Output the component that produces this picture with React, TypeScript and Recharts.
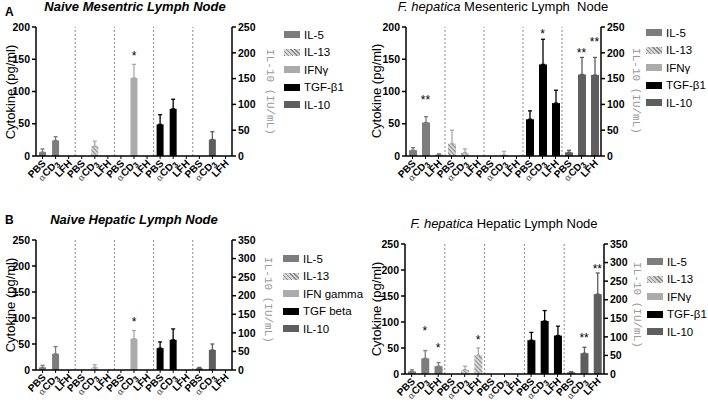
import React from 'react';
import { ComposedChart, Bar, XAxis, YAxis, ErrorBar, ReferenceLine, Scatter, Legend } from 'recharts';

const FONT = '"Liberation Sans", Arial, sans-serif';

const conditions = ['PBS', 'αCD3', 'LFH'];
const namesStd = ['IL-5', 'IL-13', 'IFNγ', 'TGF-β1', 'IL-10'];
const namesNaiveHep = ['IL-5', 'IL-13', 'IFN gamma', 'TGF beta', 'IL-10'];

const leftTicksMes = [0, 50, 100, 150, 200];
const rightTicksMes = [0, 50, 100, 150, 200, 250];
const leftTicksHep = [0, 50, 100, 150, 200, 250];
const rightTicksHep = [0, 50, 100, 150, 200, 250, 300, 350];

// rows: IL-5, IL-13, IFNγ, TGF-β1 (pg/ml) ; IL-10 (IU/mL); columns: PBS, αCD3, LFH
type Star = [number, number, string, number]; // series, condition, text, level

// Naive mesenteric lymph node
const nmMeans = [[6, 24, 0], [0, 15, 0], [0, 121, 0], [49, 73, 0], [0, 32, 0]];
const nmErrs = [[5, 6, 0], [0, 8, 0], [0, 21, 0], [15, 15, 0], [0, 15, 0]];
const nmStars: Star[] = [[2, 1, '*', 159]];

// F. hepatica mesenteric lymph node
const fmMeans = [[9, 52, 2], [19, 5, 0], [0, 1.5, 0], [57, 142, 82], [7, 158, 157]];
const fmErrs = [[4, 9, 1.5], [21, 6, 0], [0, 5.5, 0], [13, 39, 20], [4, 33, 34]];
const fmStars: Star[] = [[0, 1, '**', 92], [3, 1, '*', 194], [4, 1, '**', 205], [4, 2, '**', 227]];

// Naive hepatic lymph node
const nhMeans = [[5, 31, 0], [0, 5, 0], [0, 60, 0], [42, 58, 0], [4.5, 54, 0]];
const nhErrs = [[4, 14, 0], [0, 5, 0], [0, 16, 0], [12, 21, 0], [2.5, 16, 0]];
const nhStars: Star[] = [[2, 1, '*', 98]];

// F. hepatica hepatic lymph node
const fhMeans = [[5, 30, 15], [0, 8, 36], [0, 0, 0], [65, 102, 74], [4.5, 56, 215]];
const fhErrs = [[3, 15, 7], [0, 7, 14], [0, 0, 0], [15, 20, 18], [1.5, 16, 57]];
const fhStars: Star[] = [[0, 1, '*', 88], [0, 2, '*', 56], [1, 2, '*', 71], [4, 1, '**', 106], [4, 2, '**', 291]];

const colors = ['#7d7d7d', '#d2d2d2', '#ababab', '#000000', '#5e5e5e'];
const errColors = ['#7d7d7d', '#a8a8a8', '#ababab', '#000000', '#5e5e5e'];

function buildRows(means: number[][], errs: number[][], stars: Star[]) {
  const rows: any[] = [];
  means.forEach((vals, s) => {
    vals.forEach((v, c) => {
      const row: any = { key: `${s}-${c}` };
      row[`v${s}`] = v;
      const e = errs[s][c];
      if (e > 0) row[`e${s}`] = [0, e];
      const st = stars.find((t) => t[0] === s && t[1] === c);
      if (st) {
        if (s === 4) { row.starR = st[3]; row.txtR = st[2]; }
        else { row.starL = st[3]; row.txtL = st[2]; }
      }
      rows.push(row);
    });
  });
  return rows;
}

const XTick = (props: any) => {
  const { x, y, payload } = props;
  const c = Number(String(payload.value).split('-')[1]);
  const label = conditions[c];
  const isAlpha = label.startsWith('α');
  return (
    <text
      transform={`translate(${x + 4},${y + 3}) rotate(-45)`}
      textAnchor="end"
      fontSize={10}
      fontWeight="bold"
      fontFamily={FONT}
      fill="#000"
    >
      {isAlpha ? (
        <>
          <tspan fontSize={9} fontWeight="normal" fill="#555" fontFamily='"DejaVu Serif", serif'>α</tspan>
          <tspan>CD</tspan>
          <tspan dy={2} fontSize={8}>3</tspan>
        </>
      ) : label}
    </text>
  );
};

const makeStar = (field: string) => (props: any) => {
  const { cx, cy, payload } = props;
  const txt = payload ? payload[field] : undefined;
  if (!txt || !isFinite(cx) || !isFinite(cy)) return <g />;
  return (
    <text x={cx} y={cy + 7} textAnchor="middle" fontSize={12} fontFamily={FONT} fill="#000">{txt}</text>
  );
};
const StarL = makeStar('txtL');
const StarR = makeStar('txtR');

const Swatch = ({ i }: { i: number }) => {
  const style: React.CSSProperties = { width: 16, height: 7, display: 'inline-block', marginRight: 4, flex: 'none' };
  if (i === 1) {
    style.background = 'repeating-linear-gradient(45deg, #8a8a8a 0px, #8a8a8a 1px, #d6d6d6 1px, #d6d6d6 3px)';
  } else style.background = colors[i];
  return <span style={style} />;
};

const LegendBox = ({ names }: { names: string[] }) => (
  <div style={{ fontFamily: FONT, fontSize: 11.5, color: '#000' }}>
    {names.map((n, i) => (
      <div key={n} style={{ display: 'flex', alignItems: 'center', height: 17.5, whiteSpace: 'nowrap' }}>
        <Swatch i={i} />
        <span>{n}</span>
      </div>
    ))}
  </div>
);

const axisStroke = { stroke: '#000', strokeWidth: 1.5 };
const yTickStyle = { fill: '#000', fontSize: 10.5, fontWeight: 'bold', fontFamily: FONT };

function Panel(props: any) {
  const { uid, rows, left, top, margin, xh, leftTicks, rightTicks, names, legendPos, barSize } = props;
  const sepKeys = [3, 6, 9, 12].map((i) => rows[i].key);
  return (
    <div style={{ position: 'absolute', left, top }}>
      <ComposedChart width={354} height={202} data={rows} margin={margin}>
        <defs>
          <pattern id={`hatch-${uid}`} width={3} height={3} patternUnits="userSpaceOnUse" patternTransform="rotate(-45)">
            <rect width={3} height={3} fill="#d6d6d6" />
            <rect width={1} height={3} fill="#8a8a8a" />
          </pattern>
        </defs>
        {[0, 1, 2, 3, 4].map((k) =>
          k === 0 ? (
            <XAxis
              key="x0"
              xAxisId="x0"
              dataKey="key"
              interval={0}
              height={xh}
              tick={<XTick />}
              tickSize={3}
              tickMargin={2}
              axisLine={axisStroke}
              tickLine={{ stroke: '#000', strokeWidth: 1 }}
            />
          ) : (
            <XAxis key={`x${k}`} xAxisId={`x${k}`} dataKey="key" hide />
          )
        )}
        <YAxis
          yAxisId="L"
          domain={[0, leftTicks[leftTicks.length - 1]]}
          ticks={leftTicks}
          interval={0}
          width={36}
          tickSize={4}
          tickMargin={2}
          axisLine={axisStroke}
          tickLine={axisStroke}
          tick={yTickStyle}
        />
        <YAxis
          yAxisId="R"
          orientation="right"
          domain={[0, rightTicks[rightTicks.length - 1]]}
          ticks={rightTicks}
          interval={0}
          width={30}
          tickSize={4}
          tickMargin={2}
          axisLine={axisStroke}
          tickLine={axisStroke}
          tick={yTickStyle}
        />
        {sepKeys.map((k) => (
          <ReferenceLine key={k} xAxisId="x0" yAxisId="L" x={k} position="start" stroke="#8a8a8a" strokeDasharray="2 2" strokeWidth={1} />
        ))}
        {[0, 1, 2, 3, 4].map((k) => (
          <Bar
            key={`b${k}`}
            xAxisId={`x${k}`}
            yAxisId={k === 4 ? 'R' : 'L'}
            dataKey={`v${k}`}
            name={names[k]}
            fill={k === 1 ? `url(#hatch-${uid})` : colors[k]}
            barSize={barSize}
            isAnimationActive={false}
          >
            <ErrorBar dataKey={`e${k}`} width={2} stroke={errColors[k]} strokeWidth={1.3} direction="y" />
          </Bar>
        ))}
        <Scatter xAxisId="x0" yAxisId="L" dataKey="starL" shape={StarL} isAnimationActive={false} />
        <Scatter xAxisId="x0" yAxisId="R" dataKey="starR" shape={StarR} isAnimationActive={false} />
        <Legend
          layout="vertical"
          align="center"
          verticalAlign="middle"
          content={() => <LegendBox names={names} />}
          wrapperStyle={{ left: legendPos[0], top: legendPos[1], width: 90, height: 90 }}
        />
      </ComposedChart>
    </div>
  );
}

const txt = { fontFamily: FONT, fill: '#000' } as const;
const monoLabel = { fontFamily: '"Liberation Mono", "Courier New", monospace', fontSize: 11, fill: '#9a9a9a' } as const;

export default function App() {
  const rowsNM = buildRows(nmMeans, nmErrs, nmStars);
  const rowsFM = buildRows(fmMeans, fmErrs, fmStars);
  const rowsNH = buildRows(nhMeans, nhErrs, nhStars);
  const rowsFH = buildRows(fhMeans, fhErrs, fhStars);
  return (
    <div style={{ position: 'absolute', left: 0, top: 0, width: 708, height: 404, background: '#fff', overflow: 'hidden' }}>
      <Panel uid="nm" rows={rowsNM} left={0} top={0} margin={{ top: 27, right: 92, bottom: 6, left: 0 }} xh={40}
        leftTicks={leftTicksMes} rightTicks={rightTicksMes} names={namesStd} legendPos={[284, 26]} barSize={7} />
      <Panel uid="fm" rows={rowsFM} left={354} top={0} margin={{ top: 27, right: 77, bottom: 6, left: 16 }} xh={40}
        leftTicks={leftTicksMes} rightTicks={rightTicksMes} names={namesStd} legendPos={[292, 24]} barSize={8} />
      <Panel uid="nh" rows={rowsNH} left={0} top={202} margin={{ top: 38, right: 92, bottom: 4, left: 0 }} xh={30}
        leftTicks={leftTicksHep} rightTicks={rightTicksHep} names={namesNaiveHep} legendPos={[283, 48]} barSize={7} />
      <Panel uid="fh" rows={rowsFH} left={354} top={202} margin={{ top: 42, right: 74, bottom: 0, left: 15 }} xh={30}
        leftTicks={leftTicksHep} rightTicks={rightTicksHep} names={namesStd} legendPos={[293, 51]} barSize={8} />
      <svg width={708} height={404} style={{ position: 'absolute', left: 0, top: 0, pointerEvents: 'none' }}>
        <text x={5} y={16} fontSize={12} fontWeight="bold" {...txt}>A</text>
        <text x={5} y={224} fontSize={12} fontWeight="bold" {...txt}>B</text>
        <text x={135} y={11} fontSize={13} fontWeight="bold" fontStyle="italic" textAnchor="middle" {...txt}>Naive Mesentric Lymph Node</text>
        <text x={503} y={11} fontSize={13} textAnchor="middle" style={{ whiteSpace: 'pre' }} {...txt}>
          <tspan fontStyle="italic">F. hepatica</tspan> Mesenteric Lymph  Node
        </text>
        <text x={134} y={224} fontSize={13} fontWeight="bold" fontStyle="italic" textAnchor="middle" {...txt}>Naive Hepatic Lymph Node</text>
        <text x={504} y={228} fontSize={13} textAnchor="middle" {...txt}>
          <tspan fontStyle="italic">F. hepatica</tspan> Hepatic Lymph Node
        </text>
        {[[10, 92], [376, 91], [10, 305], [376, 309]].map(([x, y], i) => (
          <text key={`c${i}`} x={x} y={y} fontSize={13} textAnchor="middle" dominantBaseline="central" transform={`rotate(-90 ${x} ${y})`} {...txt}>Cytokine (pg/ml)</text>
        ))}
        {[[270, 92], [636, 91], [268, 300], [637, 305]].map(([x, y], i) => (
          <text key={`r${i}`} x={x} y={y} textAnchor="middle" dominantBaseline="central" transform={`rotate(90 ${x} ${y})`} {...monoLabel}>IL-10 (IU/mL)</text>
        ))}
      </svg>
    </div>
  );
}
